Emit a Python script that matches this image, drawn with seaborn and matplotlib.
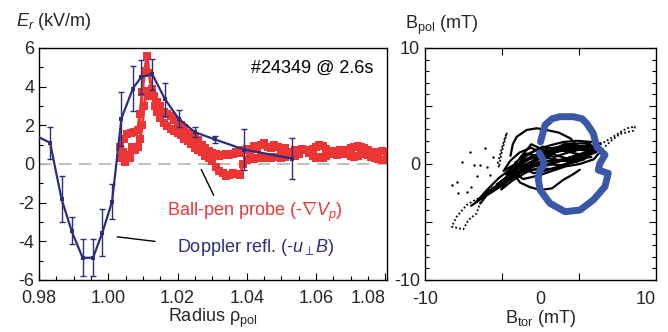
import matplotlib
matplotlib.use("Agg")
import matplotlib.pyplot as plt
import seaborn as sns
from matplotlib.ticker import MultipleLocator, FixedLocator

# Doppler reflectometry profile
dr_x = [0.9775, 0.9832, 0.9865, 0.9894, 0.9926, 0.9956, 0.9983, 1.0011, 1.0038,
        1.0071, 1.0095, 1.0127, 1.0164, 1.0203, 1.0250, 1.0308, 1.0392, 1.0531]
dr_y = [1.6, 1.1, -1.8, -3.45, -4.85, -4.85, -3.55, -1.95, 2.35,
        3.9, 4.5, 4.65, 3.35, 2.35, 1.65, 1.27, 0.75, 0.28]
dr_err = [0.8, 0.83, 1.2, 0.7, 0.95, 0.95, 1.2, 0.9, 1.4,
          1.15, 0.9, 0.8, 0.85, 0.45, 0.26, 0.2, 1.05, 1.05]

# ball-pen probe, two sweeps
bpp_x1 = [1.0035, 1.0045, 1.0055, 1.0065, 1.0075, 1.0085, 1.0092, 1.0098, 1.0105, 1.0112,
          1.0118, 1.0125, 1.0132, 1.0140, 1.0150, 1.0160, 1.0170, 1.0180, 1.0190, 1.0200,
          1.0210, 1.0220, 1.0230, 1.0240, 1.0250, 1.0260, 1.0270, 1.0280, 1.0290, 1.0300,
          1.0310, 1.0320, 1.0330, 1.0340, 1.0350, 1.0360, 1.0370, 1.0380, 1.0390, 1.0400,
          1.0410, 1.0420, 1.0430, 1.0440, 1.0450, 1.0460, 1.0470, 1.0480, 1.0490, 1.0500,
          1.0510, 1.0520, 1.0530, 1.0540, 1.0550, 1.0560, 1.0570, 1.0580, 1.0590, 1.0600,
          1.0610, 1.0620, 1.0630, 1.0640, 1.0650, 1.0660, 1.0670, 1.0680, 1.0690, 1.0700,
          1.0710, 1.0720, 1.0730, 1.0740, 1.0750, 1.0760, 1.0770, 1.0780, 1.0790, 1.0805]
bpp_y1 = [0.9, 1.3, 1.55, 1.6, 1.65, 1.75, 2.6, 3.7, 4.8, 5.6,
          4.7, 3.9, 3.5, 3.2, 3.0, 2.7, 2.6, 2.5, 2.3, 2.1,
          2.0, 1.85, 1.6, 1.5, 1.35, 1.25, 1.0, 0.85, 0.65, 0.55,
          0.5, 0.4, 0.45, 0.5, 0.45, 0.5, 0.6, 0.55, 0.7, 0.8,
          0.75, 0.95, 0.8, 1.0, 1.1, 0.9, 0.85, 1.0, 0.9, 0.8,
          0.85, 0.6, 0.45, 0.4, 0.5, 0.7, 0.75, 0.7, 0.8, 0.9,
          1.0, 0.95, 0.8, 0.65, 0.5, 0.45, 0.5, 0.55, 0.7, 0.85,
          0.9, 0.95, 0.9, 0.85, 0.7, 0.6, 0.55, 0.6, 0.65, 0.6]
bpp_x2 = [1.0035, 1.0042, 1.0048, 1.0055, 1.0062, 1.0070, 1.0078, 1.0085, 1.0092, 1.0098,
          1.0104, 1.0110, 1.0118, 1.0126, 1.0134, 1.0142, 1.0150, 1.0160, 1.0170, 1.0180,
          1.0190, 1.0200, 1.0210, 1.0220, 1.0230, 1.0240, 1.0250, 1.0260, 1.0270, 1.0280,
          1.0290, 1.0300, 1.0310, 1.0320, 1.0330, 1.0340, 1.0350, 1.0360, 1.0370, 1.0380,
          1.0390, 1.0400, 1.0410, 1.0420, 1.0430, 1.0440, 1.0450, 1.0460, 1.0470, 1.0480,
          1.0490, 1.0500, 1.0510, 1.0520, 1.0530, 1.0540, 1.0550, 1.0560, 1.0570, 1.0580,
          1.0590, 1.0600, 1.0610, 1.0620, 1.0630, 1.0640, 1.0650, 1.0660, 1.0670, 1.0680,
          1.0690, 1.0700, 1.0710, 1.0720, 1.0730, 1.0740, 1.0750, 1.0760, 1.0770, 1.0780,
          1.0790, 1.0805]
bpp_y2 = [0.3, 0.6, 0.1, 0.45, 0.3, 0.9, 0.75, 0.9, 1.3, 2.0,
          3.0, 3.8, 3.5, 3.6, 3.0, 2.7, 2.4, 2.1, 1.95, 1.8,
          1.7, 1.6, 1.5, 1.3, 1.2, 1.05, 0.85, 0.7, 0.6, 0.4,
          0.3, 0.15, -0.15, -0.35, -0.45, -0.6, -0.55, -0.45, -0.5, -0.55,
          0.0, 0.2, 0.3, 0.25, 0.3, 0.35, 0.3, 0.35, 0.3, 0.35,
          0.35, 0.3, 0.35, 0.45, 0.6, 0.7, 0.75, 0.8, 0.7, 0.55,
          0.4, 0.3, 0.35, 0.3, 0.4, 0.55, 0.6, 0.65, 0.7, 0.6,
          0.5, 0.4, 0.35, 0.4, 0.5, 0.55, 0.45, 0.35, 0.3, 0.25,
          0.2, 0.2]

# magnetic hodogram (mT)
loop_btor = [0.0, 0.39, 1.0, 1.69, 2.84, 3.6, 4.0, 4.57, 4.86, 5.58, 5.15, 5.0,
             5.87, 5.58, 4.57, 3.42, 2.12, 0.82, -0.04, -0.19, -0.1, 0.3, 0.2, -0.1]
loop_bpol = [1.9, 3.36, 3.9, 4.08, 4.08, 3.9, 3.5, 2.65, 1.49, 0.78, 0.06, -0.52,
             -0.8, -1.95, -3.1, -3.97, -4.11, -3.39, -2.24, -1.3, -0.6, -0.1, 0.4, 0.95]

core_btor = [-5.2, -4.6, -4.0, -3.2, -2.6, -1.8, -1.0, 0.0, 1.0, 2.0, 3.0, 4.0, 5.0, 4.2,
             3.2, 2.0, 1.0, 0.0, -1.2, -2.4, -3.4, -2.8, -2.0, -1.4, -0.4, 0.8, 2.0, 3.2,
             4.4, 3.6, 2.4, 1.2, 0.2, -0.8, -1.8, -2.6, -3.2, -2.2, -1.2, 0.0, 1.4, 2.8,
             4.0, 5.3, 4.6, 3.4, 2.2, 1.0, -0.2, -1.5, -2.5, -1.6, -0.6, 0.6, 1.8, 3.0,
             4.2, 5.2]
core_bpol = [-3.4, -2.6, -2.1, -1.6, -1.0, -0.6, 0.1, 0.5, 0.9, 1.3, 1.5, 1.6, 1.5, 1.1,
             0.8, 0.4, 0.0, -0.3, -0.7, -1.4, -2.2, -1.2, -0.2, 0.6, 1.2, 1.6, 1.9, 2.0,
             1.9, 1.3, 1.0, 0.6, 0.9, 1.4, 1.0, 0.3, -0.6, 0.0, -0.2, 0.2, 0.3, 0.6,
             0.9, 1.2, 0.4, 0.0, -0.2, -0.6, -1.0, -1.3, -0.6, 0.3, 0.7, 1.1, 1.4, 1.2,
             1.4, 1.8]
core2_btor = [-4.5, -3.0, -1.5, 0.5, 2.5, 4.5, 3.5, 1.5, -0.5, -2.5, -3.8, -2.0, 0.0, 2.0,
              4.0, 5.0, 3.0, 1.0, -1.0, -2.8, -1.5, 0.5, 2.5, 4.6, 3.8, 2.0, 0.0, -2.0,
              -3.0, -1.0, 1.0, 3.0, 4.8, 2.6, 0.6, -1.2, -2.2, -0.6, 1.6, 3.6, 4.4, 2.2,
              0.2, -1.8, -0.8, 1.2, 3.2, 4.2, 2.8, 1.4, -0.4]
core2_bpol = [-2.6, -1.6, -0.4, 0.8, 1.4, 1.2, 0.6, 0.2, -0.2, -0.8, -1.8, -0.4, 0.6, 1.7,
              1.8, 1.3, 0.3, -0.4, -0.5, -1.1, 0.2, 1.3, 1.6, 1.4, 0.4, -0.1, 0.0, -0.4,
              -0.9, 0.4, 1.0, 1.3, 1.0, 0.2, 0.5, 0.9, 0.1, -0.8, -0.3, 0.5, 0.6, 1.1,
              1.5, 0.5, 1.7, 0.8, 0.2, 1.2, 1.7, 1.1, -0.1]
streak_btor = [-6.0, -5.0, -4.2, -3.4, -2.6, -1.6, -2.4, -3.2, -4.0, -4.8, -5.6, -4.6,
               -3.6, -2.8, -2.0]
streak_bpol = [-3.6, -2.9, -2.4, -1.9, -1.3, -0.7, -0.9, -1.5, -2.0, -2.6, -3.3, -2.2,
               -1.2, -0.6, 0.1]
ring_btor = [-2.6, -2.4, -2.06, -1.2, -0.33, 0.54, 1.6, 2.6, 3.2]
ring_bpol = [0.7, 1.7, 2.35, 2.93, 3.08, 2.93, 2.7, 2.2, 1.5]
arc_btor = [-2.5, -1.77, -0.9, 0.0, 1.0, 1.95, 2.8, 3.4]
arc_bpol = [-0.6, -1.6, -2.0, -2.24, -2.1, -1.38, -0.9, -0.5]
spike_btor = [-3.7, -3.6, -3.4, -3.2, -3.0, -2.9, -3.1, -3.4, -3.6]
spike_bpol = [0.2, -0.3, 0.8, 1.6, 2.4, 2.7, 2.2, 1.2, 0.4]
tail_btor = [-4.2, -5.0, -5.24, -5.52, -6.25, -6.68, -7.69, -7.26, -6.39, -5.67, -5.0, -4.5]
tail_bpol = [-1.9, -2.8, -3.39, -4.25, -4.83, -5.63, -5.4, -4.54, -3.53, -3.1, -2.8, -2.4]
head_btor = [4.86, 6.3, 7.46, 8.18, 8.03, 6.88, 6.02, 5.44]
head_bpol = [1.49, 2.35, 3.08, 3.22, 2.87, 2.59, 1.92, 1.35]
dots_btor = [-6.1, -6.8, -5.8, -5.24, -4.8, -4.66, -7.69, -7.26, -7.1, -6.39, -4.37, -4.09, -5.5, -6.0]
dots_bpol = [1.06, 0.2, -0.09, -0.09, 1.35, -0.23, -1.8, -1.53, -2.53, -2.39, -0.95, 0.63, -1.0, -2.0]

red = "#EE3535"
navy = "#2E2D7D"
royal = "#3A58A8"

sns.set_theme(style="ticks")
plt.rcParams["font.family"] = ["Liberation Sans", "DejaVu Sans"]
plt.rcParams["mathtext.fontset"] = "custom"
plt.rcParams["mathtext.rm"] = "Liberation Sans"
plt.rcParams["mathtext.it"] = "Liberation Sans:italic"
plt.rcParams["axes.unicode_minus"] = False

fig = plt.figure(figsize=(6.68, 3.32), dpi=100)
ax = fig.add_axes([39 / 668, 52 / 332, 348 / 668, 232 / 332])
ax2 = fig.add_axes([425 / 668, 52 / 332, 231 / 668, 232 / 332])

# left panel
ax.axhline(0, color="#BBBBBB", lw=1.3, dashes=(7, 4), zorder=1)
for bx, by in [(bpp_x1, bpp_y1), (bpp_x2, bpp_y2)]:
    sns.lineplot(x=bx, y=by, sort=False, estimator=None, ax=ax, color=red, lw=2.2,
                 marker="s", markersize=6, markeredgewidth=0, zorder=2)
ax.errorbar(dr_x, dr_y, yerr=dr_err, fmt="none", ecolor=navy, elinewidth=1,
            capsize=2.5, capthick=1, zorder=3)
sns.lineplot(x=dr_x, y=dr_y, sort=False, estimator=None, ax=ax, color=navy, lw=1.6,
             marker="s", markersize=3, markeredgewidth=0, zorder=4)

ax.set_xlim(0.98, 1.0805)
ax.set_ylim(-6, 6)
ax.set_xticks([0.98, 1.00, 1.02, 1.04, 1.06, 1.08])
ax.set_xticklabels(["0.98", "1.00", "1.02", "1.04", "1.06", "1.08"])
ax.get_xticklabels()[-1].set_ha("right")
ax.set_yticks([-6, -4, -2, 0, 2, 4, 6])
ax.xaxis.set_minor_locator(MultipleLocator(0.005))
ax.yaxis.set_minor_locator(MultipleLocator(1))
ax.tick_params(which="both", direction="in", labelsize=13, color="black")
ax.tick_params(which="major", length=5, width=0.8)
ax.tick_params(which="minor", length=3, width=0.8)
ax.tick_params(axis="x", pad=7)
ax.set_xlabel("Radius ρ$_{\\rm pol}$", fontsize=13, labelpad=0)
ax.set_ylabel("")

ax.text(1.0766, 4.95, "#24349 @ 2.6s", ha="right", va="center", fontsize=13, color="black")
ax.text(1.0424, -2.5, r"Ball-pen probe (-$\nabla V_p$)", ha="center", va="center",
        fontsize=13, color=red)
ax.text(1.0425, -4.34, r"Doppler refl. (-$u_{\perp}B$)", ha="center", va="center",
        fontsize=13, color=navy)
ax.annotate("", xy=(1.0265, -0.15), xytext=(1.0308, -1.75),
            arrowprops=dict(arrowstyle="-", color="black", lw=1))
ax.annotate("", xy=(1.0018, -3.75), xytext=(1.0143, -4.02),
            arrowprops=dict(arrowstyle="-", color="black", lw=1))

# right panel
for bx, by in [(core_btor, core_bpol), (core2_btor, core2_bpol), (streak_btor, streak_bpol),
               (ring_btor, ring_bpol), (arc_btor, arc_bpol)]:
    sns.lineplot(x=bx, y=by, sort=False, estimator=None, ax=ax2, color="black", lw=1.6)
for bx, by in [(spike_btor, spike_bpol), (tail_btor, tail_bpol), (head_btor, head_bpol)]:
    sns.lineplot(x=bx, y=by, sort=False, estimator=None, ax=ax2, color="black", lw=1.3,
                 dashes=False, linestyle=(0, (1, 1.2)))
sns.scatterplot(x=dots_btor, y=dots_bpol, ax=ax2, color="black", s=3, linewidth=0)
sns.lineplot(x=loop_btor, y=loop_bpol, sort=False, estimator=None, ax=ax2, color=royal,
             lw=5, solid_joinstyle="round", solid_capstyle="round", zorder=5)

ax2.set_xlim(-10, 10)
ax2.set_ylim(-10, 10)
ax2.xaxis.set_major_locator(FixedLocator([-10, 0, 10]))
ax2.set_xticklabels(["-10", "0", "10"])
ax2.get_xticklabels()[-1].set_ha("right")
ax2.xaxis.set_minor_locator(FixedLocator([-10 / 3, 10 / 3]))
ax2.yaxis.set_major_locator(FixedLocator([-10, -5, 0, 5, 10]))
ax2.set_yticklabels(["-10", "", "0", "", "10"])
ax2.yaxis.set_minor_locator(MultipleLocator(1))
ax2.tick_params(which="both", direction="in", labelsize=13, top=True, right=True,
                color="black")
ax2.tick_params(which="major", length=5, width=0.8)
ax2.tick_params(which="minor", length=3, width=0.8)
ax2.tick_params(axis="x", which="major", length=0, pad=8)
ax2.tick_params(axis="x", which="minor", length=5)
ax2.set_xlabel("B$_{\\rm tor}$ (mT)", fontsize=13, labelpad=0)
ax2.set_ylabel("")

for a in (ax, ax2):
    for s in a.spines.values():
        s.set_color("black")
        s.set_linewidth(1)

fig.text(54 / 668, 1 - 22 / 332, r"$E_r$ (kV/m)", ha="center", va="center", fontsize=13)
fig.text(442 / 668, 1 - 25 / 332, "B$_{\\rm pol}$ (mT)", ha="center", va="center", fontsize=13)

fig.savefig("out.png", dpi=100)
